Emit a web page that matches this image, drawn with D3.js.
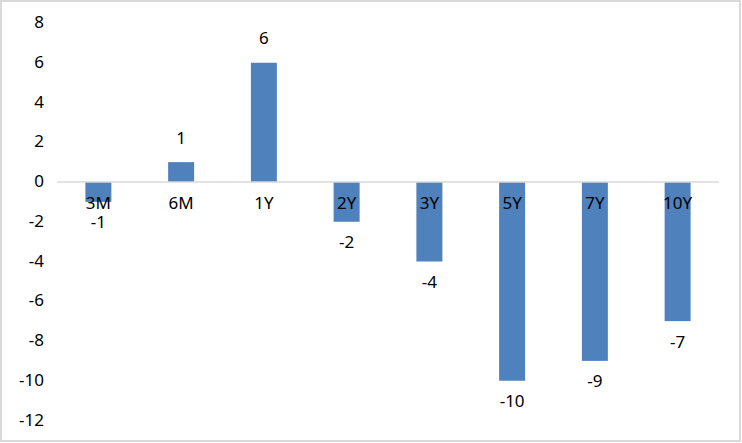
<!DOCTYPE html>
<html><head><meta charset="utf-8">
<script src="https://cdn.jsdelivr.net/npm/d3@7"></script>
<style>html,body{margin:0;padding:0;background:#fff;}svg{display:block;}</style>
</head><body>
<svg id="c" width="742" height="443"></svg>
<script>
const categories = ["3M","6M","1Y","2Y","3Y","5Y","7Y","10Y"];
const values = [-1, 1, 6, -2, -4, -10, -9, -7];
const yTicks = [8, 6, 4, 2, 0, -2, -4, -6, -8, -10, -12];

const svg = d3.select("#c");
const W = 742, H = 443;
const font = "'Noto Sans', 'Liberation Sans', sans-serif";
svg.append("rect").attr("x",1).attr("y",1).attr("width",W-3).attr("height",H-3)
  .attr("fill","#fff").attr("stroke","#d9d9d9").attr("stroke-width",2);

const x = d3.scaleBand().domain(categories).range([57, 719]).paddingInner(0.686).paddingOuter(0.343);
const y = d3.scaleLinear().domain([-12, 8]).range([420.5, 23]);

// bars
svg.selectAll("rect.bar").data(values).enter().append("rect")
  .attr("class","bar")
  .attr("x",(d,i)=>x(categories[i]))
  .attr("width",x.bandwidth())
  .attr("y",d=>y(Math.max(0,d)))
  .attr("height",d=>Math.abs(y(d)-y(0)))
  .attr("fill","#4f81bd");

// zero line
svg.append("line").attr("x1",57).attr("x2",719).attr("y1",y(0)).attr("y2",y(0))
  .attr("stroke","#d9d9d9").attr("stroke-width",1.5);

// y axis labels
const yAxis = d3.axisLeft(y).tickValues(yTicks).tickSize(0).tickPadding(0).tickFormat(d3.format("d"));
const ga = svg.append("g").attr("transform","translate(44,0)").call(yAxis);
ga.select(".domain").remove();
ga.selectAll("text").attr("font-family",font).attr("font-size",17).attr("fill","#000")
  .attr("dy","0").attr("dominant-baseline","middle")
  .text(d=>String(d).replace("\u2212","-"));

// x axis labels
const xAxis = d3.axisBottom(x).tickSize(0).tickPadding(0);
const gx = svg.append("g").attr("transform",`translate(0,${y(0)+14})`).call(xAxis);
gx.select(".domain").remove();
gx.selectAll("text").attr("font-family",font).attr("font-size",17).attr("fill","#000")
  .attr("dy","0").attr("dominant-baseline","middle").attr("y",8);

// data labels
svg.selectAll("text.lbl").data(values).enter().append("text")
  .attr("class","lbl")
  .attr("x",(d,i)=>x(categories[i])+x.bandwidth()/2)
  .attr("y",d=>d>=0 ? y(d)-23 : y(d)+22)
  .attr("text-anchor","middle").attr("dominant-baseline","middle")
  .attr("font-family",font).attr("font-size",17).attr("fill","#000")
  .text(d=>String(d));
</script>
</body></html>
